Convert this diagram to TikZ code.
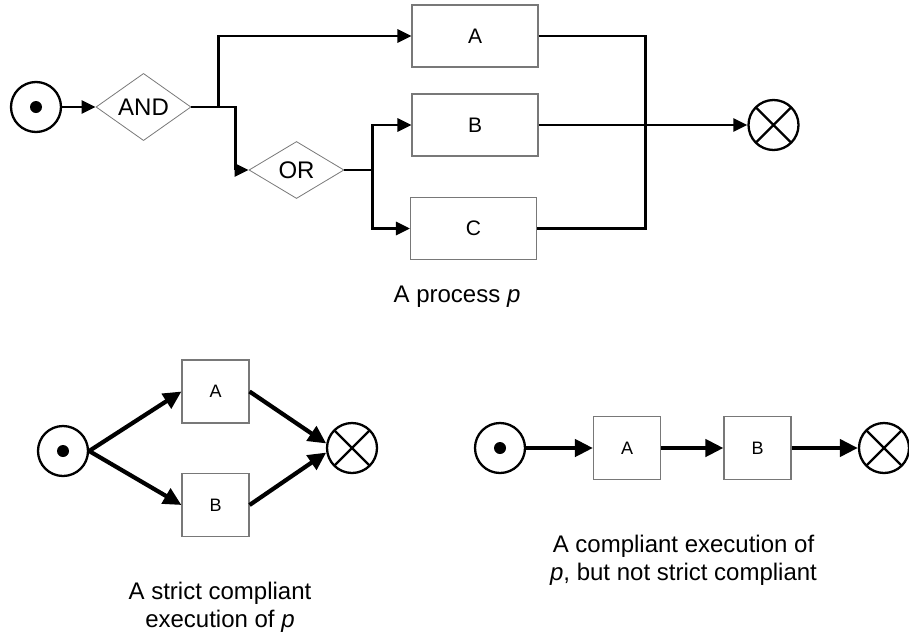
\documentclass[tikz,border=0pt]{standalone}
\usepackage{fontspec}
\setmainfont{Liberation Sans}
\usepackage{tikz}
\usetikzlibrary{arrows.meta, positioning, shapes.geometric}
\definecolor{boxgray}{RGB}{120,120,120}

\begin{document}
\begin{tikzpicture}[x=1pt, y=-1pt,
    task/.style={draw=boxgray, line width=1.1pt, inner sep=0pt,
                 font=\fontsize{21}{24}\selectfont},
    smalltask/.style={task, minimum width=67pt, minimum height=63pt,
                 font=\fontsize{18}{22}\selectfont},
    gate/.style={diamond, draw=boxgray, line width=0.8pt, inner sep=0pt,
                 minimum width=95pt, minimum height=57pt,
                 font=\fontsize{24}{28}\selectfont},
    startev/.style={circle, draw, line width=2.3pt, minimum size=50pt, inner sep=0pt,
                 path picture={\fill (path picture bounding box.center) circle (6pt);}},
    endev/.style={circle, draw, line width=2.3pt, minimum size=50pt, inner sep=0pt,
                 path picture={\draw[line width=2.3pt]
                   (path picture bounding box.north west) -- (path picture bounding box.south east)
                   (path picture bounding box.north east) -- (path picture bounding box.south west);}},
    flow/.style={line width=2.8pt, -{Triangle[length=14pt, width=13pt]}},
    bigflow/.style={line width=4.2pt, -{Triangle[length=18pt, width=17pt]}},
    caption/.style={align=center, font=\fontsize{24}{28}\selectfont}]
  \useasboundingbox (0,0) rectangle (909,640);

  % the process p
  \node[startev] (s) at (36,107) {};
  \node[gate] (and) at (143.5,107) {AND};
  \node[gate] (or) at (296.5,170) {OR};
  \node[task, minimum width=126pt, minimum height=62pt] (A) at (475,36) {A};
  \node[task, minimum width=126pt, minimum height=62pt] (B) at (475,125) {B};
  \node[task, minimum width=126pt, minimum height=62pt] (C) at (473.5,228.5) {C};
  \node[endev] (e) at (773.5,125) {};
  \draw[flow] (s.east) -- (and.west);
  \draw[flow] (and.east) -- ++(27,0) |- (A.west);
  \draw[flow] (and.east) -- ++(44,0) |- (or.west);
  \draw[flow] (or.east) -- ++(28,0) |- (B.west);
  \draw[flow] (or.east) -- ++(28,0) |- (C.west);
  \draw[line width=2.8pt] (A.east) -- ++(107,0) |- (C.east);
  \draw[flow] (B.east) -- (e.west);
  \node[caption, anchor=base] (cap1) at (457,302) {A process \textit{p}};

  % strict compliant execution
  \node[startev] (s2) at (63,451) {};
  \node[smalltask] (a2) at (215.5,391.5) {A};
  \node[smalltask] (b2) at (215.5,505) {B};
  \node[endev] (e2) at (352,448) {};
  \draw[bigflow] (s2.east) -- (a2.west);
  \draw[bigflow] (s2.east) -- (b2.west);
  \draw[bigflow] (a2.east) -- (e2.170);
  \draw[bigflow] (b2.east) -- (e2.190);
  \node[caption] (cap2) at (220,607) {A strict compliant\\execution of \textit{p}};

  % compliant execution
  \node[startev] (s3) at (500,448) {};
  \node[smalltask] (a3) at (627,448) {A};
  \node[smalltask] (b3) at (757.5,448) {B};
  \node[endev] (e3) at (884,448) {};
  \draw[bigflow] (s3) -- (a3);
  \draw[bigflow] (a3) -- (b3);
  \draw[bigflow] (b3) -- (e3);
  \node[caption] (cap3) at (683.5,560) {A compliant execution of\\\textit{p}, but not strict compliant};
\end{tikzpicture}
\end{document}
